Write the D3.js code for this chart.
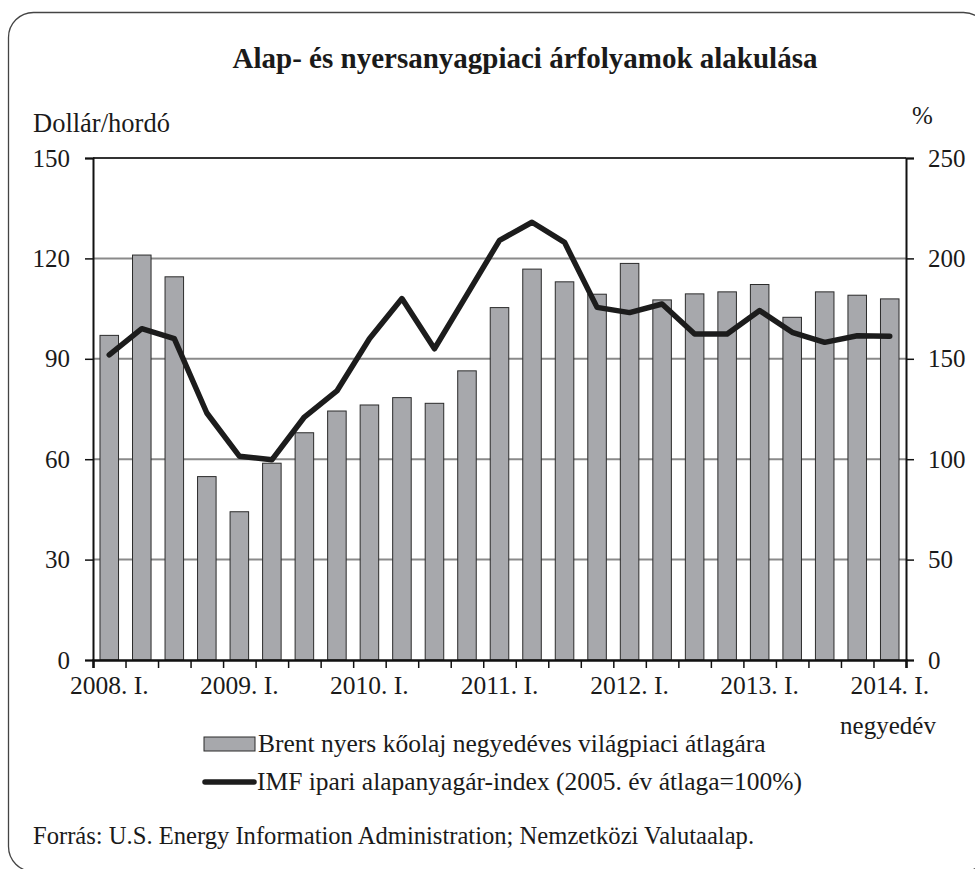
<!DOCTYPE html>
<html>
<head>
<meta charset="utf-8">
<script src="https://cdn.jsdelivr.net/npm/d3@7"></script>
<style>
  body { margin: 0; background: #fff; }
  svg text { font-family: "Liberation Serif", "DejaVu Serif", serif; fill: #1a1a1a; }
</style>
</head>
<body>
<div id="chart"></div>
<script>
// quarters 2008 Q1 - 2014 Q1
const quarters = [
  "2008. I.", "2008. II.", "2008. III.", "2008. IV.",
  "2009. I.", "2009. II.", "2009. III.", "2009. IV.",
  "2010. I.", "2010. II.", "2010. III.", "2010. IV.",
  "2011. I.", "2011. II.", "2011. III.", "2011. IV.",
  "2012. I.", "2012. II.", "2012. III.", "2012. IV.",
  "2013. I.", "2013. II.", "2013. III.", "2013. IV.",
  "2014. I."
];

// Brent oil, USD / barrel (left axis)
const brent = [
  97, 121, 114.5, 54.8,
  44.3, 58.8, 67.9, 74.4,
  76.2, 78.4, 76.7, 86.4,
  105.3, 116.8, 113, 109.3,
  118.5, 107.6, 109.4, 110,
  112.2, 102.4, 110, 109,
  107.9
];

// IMF industrial inputs index, 2005 = 100 (right axis, %)
const imf = [
  152, 165, 160, 123,
  101.5, 99.7, 121, 134,
  160, 180, 155, 182,
  209, 218, 208, 175.6,
  173, 177.3, 162.4, 162.4,
  174, 163.2, 158.2, 161.5,
  161.2
];

const leftTicks = [0, 30, 60, 90, 120, 150];
const rightTicks = [0, 50, 100, 150, 200, 250];
const xLabels = ["2008. I.", "2009. I.", "2010. I.", "2011. I.", "2012. I.", "2013. I.", "2014. I."];

const width = 975, height = 869;
const mLeft = 93, mRight = 906, mTop = 158, mBottom = 660;

const svg = d3.select("#chart").append("svg")
  .attr("width", width)
  .attr("height", height);

// frame with rounded corners (runs off the right / bottom edge)
svg.append("rect")
  .attr("x", 8.5).attr("y", 12.5)
  .attr("width", 980).attr("height", 859)
  .attr("rx", 25).attr("ry", 25)
  .attr("fill", "none")
  .attr("stroke", "#444")
  .attr("stroke-width", 1.3);

const x = d3.scaleBand()
  .domain(quarters)
  .range([mLeft, mRight])
  .paddingInner(0.43)
  .paddingOuter(0.215);

const xEdges = d3.scaleLinear().domain([0, quarters.length]).range([mLeft, mRight]);

const yL = d3.scaleLinear().domain([0, 150]).range([mBottom, mTop]);
const yR = d3.scaleLinear().domain([0, 250]).range([mBottom, mTop]);

// title
svg.append("text")
  .attr("x", 525).attr("y", 68)
  .attr("text-anchor", "middle")
  .style("font-size", "29px")
  .style("font-weight", "bold")
  .text("Alap- és nyersanyagpiaci árfolyamok alakulása");

svg.append("text")
  .attr("x", 33).attr("y", 132)
  .style("font-size", "26.5px")
  .text("Dollár/hordó");

svg.append("text")
  .attr("x", 912).attr("y", 124)
  .style("font-size", "25px")
  .text("%");

// gridlines
svg.append("g")
  .selectAll("line")
  .data(leftTicks.filter(d => d > 0))
  .join("line")
  .attr("x1", mLeft).attr("x2", mRight)
  .attr("y1", d => yL(d)).attr("y2", d => yL(d))
  .attr("stroke", d => d === 150 ? "#333" : "#8a8a8a")
  .attr("stroke-width", 2);

// bars
svg.append("g")
  .selectAll("rect")
  .data(brent)
  .join("rect")
  .attr("x", (d, i) => x(quarters[i]))
  .attr("y", d => yL(d))
  .attr("width", x.bandwidth())
  .attr("height", d => yL(0) - yL(d))
  .attr("fill", "#a7a8ac")
  .attr("stroke", "#2b2b2b")
  .attr("stroke-width", 1);

// line
const line = d3.line()
  .x((d, i) => x(quarters[i]) + x.bandwidth() / 2)
  .y(d => yR(d));

svg.append("path")
  .datum(imf)
  .attr("d", line)
  .attr("fill", "none")
  .attr("stroke", "#1c1c1c")
  .attr("stroke-width", 5.5)
  .attr("stroke-linejoin", "round")
  .attr("stroke-linecap", "round");

// left axis
const axL = svg.append("g")
  .attr("transform", `translate(${mLeft},0)`)
  .call(d3.axisLeft(yL).tickValues(leftTicks).tickSize(8).tickPadding(15));
axL.select(".domain").attr("stroke", "#111").attr("stroke-width", 2);
axL.selectAll(".tick line").attr("stroke", "#111").attr("stroke-width", 1.5);
axL.selectAll(".tick text").style("font-size", "25px").attr("font-family", null).attr("fill", null);

// right axis
const axR = svg.append("g")
  .attr("transform", `translate(${mRight},0)`)
  .call(d3.axisRight(yR).tickValues(rightTicks).tickSize(8).tickPadding(14));
axR.select(".domain").attr("stroke", "#111").attr("stroke-width", 2);
axR.selectAll(".tick line").attr("stroke", "#111").attr("stroke-width", 1.5);
axR.selectAll(".tick text").style("font-size", "25px").attr("font-family", null).attr("fill", null);

// bottom axis: ticks on quarter boundaries
const axB = svg.append("g")
  .attr("transform", `translate(0,${mBottom})`)
  .call(d3.axisBottom(xEdges).tickValues(d3.range(quarters.length + 1)).tickSize(8).tickFormat(""));
axB.select(".domain").attr("stroke", "#111").attr("stroke-width", 2.5);
axB.selectAll(".tick line").attr("stroke", "#111").attr("stroke-width", 1.5);

svg.append("g")
  .selectAll("text")
  .data(xLabels)
  .join("text")
  .attr("x", d => x(d) + x.bandwidth() / 2)
  .attr("y", mBottom + 34)
  .attr("text-anchor", "middle")
  .style("font-size", "25.5px")
  .text(d => d);

svg.append("text")
  .attr("x", 888).attr("y", 734)
  .attr("text-anchor", "middle")
  .style("font-size", "25px")
  .text("negyedév");

// legend
const legend = svg.append("g");
legend.append("rect")
  .attr("x", 204).attr("y", 737)
  .attr("width", 51).attr("height", 14)
  .attr("fill", "#a7a8ac")
  .attr("stroke", "#2b2b2b")
  .attr("stroke-width", 1);
legend.append("text")
  .attr("x", 258).attr("y", 752)
  .style("font-size", "25.5px")
  .text("Brent nyers kőolaj negyedéves világpiaci átlagára");

legend.append("line")
  .attr("x1", 205).attr("x2", 254)
  .attr("y1", 782).attr("y2", 782)
  .attr("stroke", "#1c1c1c")
  .attr("stroke-width", 5.5)
  .attr("stroke-linecap", "round");
legend.append("text")
  .attr("x", 257).attr("y", 790)
  .style("font-size", "25.5px")
  .text("IMF ipari alapanyagár-index (2005. év átlaga=100%)");

svg.append("text")
  .attr("x", 33).attr("y", 844)
  .style("font-size", "24.6px")
  .text("Forrás: U.S. Energy Information Administration; Nemzetközi Valutaalap.");
</script>
</body>
</html>
